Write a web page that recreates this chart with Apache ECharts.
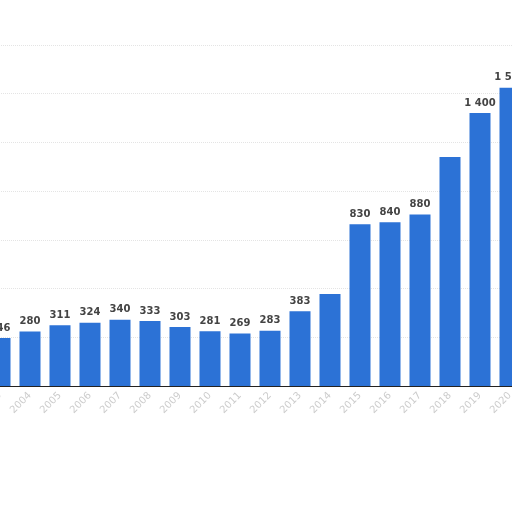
<!DOCTYPE html>
<html lang="en">
<head>
    <meta charset="UTF-8">
    <title>bars</title>
    <style>
        html,
        body {
            margin: 0;
            padding: 0;
            width: 100%;
            height: 100%;
            background: #fff;
        }

        #canvas {
            width: 512px;
            height: 512px;
        }
    </style>
</head>
<body>
<div id="canvas"></div>
</body>
<script src="https://cdn.jsdelivr.net/npm/echarts@6.0.0/dist/echarts.min.js"></script>
<script>

    const years = ['2003', '2004', '2005', '2006', '2007', '2008', '2009', '2010', '2011',
        '2012', '2013', '2014', '2015', '2016', '2017', '2018', '2019', '2020']
    const values = [246, 280, 311, 324, 340, 333, 303, 281, 269,
        283, 383, 472, 830, 840, 880, 1175, 1400, 1530]
    // labels that are hidden in the picture
    const hiddenLabels = [11, 15]

    function fmt(v) {
        return String(v).replace(/\B(?=(\d{3})+(?!\d))/g, ' ')
    }

    const myChart = echarts.init(document.getElementById('canvas'))

    myChart.setOption({
        animation: false,
        grid: {
            left: -15,
            right: -13,
            top: -4,
            bottom: 126,
            outerBoundsMode: 'none',
            containLabel: false
        },
        xAxis: {
            type: 'category',
            data: years,
            axisLine: { lineStyle: { color: '#222', width: 1 } },
            axisTick: { show: false },
            axisLabel: {
                rotate: 45,
                color: '#cccccc',
                fontSize: 10,
                fontFamily: 'DejaVu Sans',
                margin: 8
            }
        },
        yAxis: {
            type: 'value',
            min: 0,
            max: 2000,
            interval: 250,
            axisLabel: { show: false },
            axisLine: { show: false },
            axisTick: { show: false },
            splitLine: { lineStyle: { color: '#e4e4e4', type: 'dotted' } }
        },
        series: [{
            type: 'bar',
            data: values.map((v, i) => ({
                value: v,
                label: { show: !hiddenLabels.includes(i) }
            })),
            barWidth: '70%',
            itemStyle: { color: '#2c72d6' },
            label: {
                show: true,
                position: 'top',
                distance: 5,
                color: '#444',
                fontSize: 10,
                fontWeight: 'bold',
                fontFamily: 'DejaVu Sans',
                formatter: p => fmt(p.value)
            }
        }]
    })
</script>
</html>
